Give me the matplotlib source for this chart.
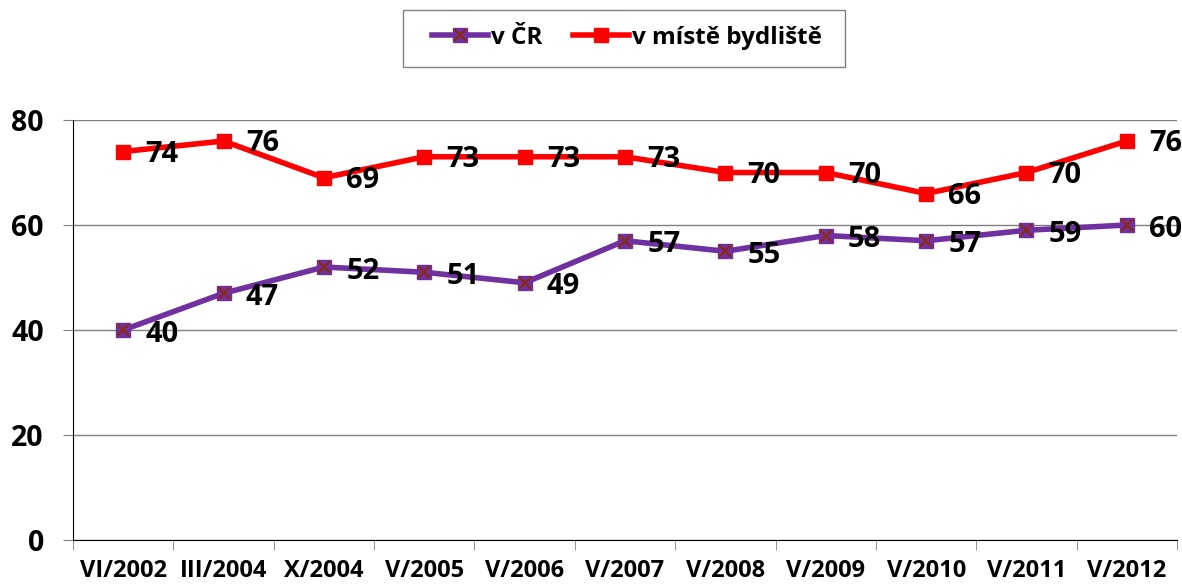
import numpy as np
import matplotlib.pyplot as plt
from matplotlib.lines import Line2D
from matplotlib.patches import Rectangle

plt.rcParams['font.family'] = ['Open Sans', 'DejaVu Sans']
plt.rcParams['font.weight'] = 'bold'

# data
categories = ["VI/2002", "III/2004", "X/2004", "V/2005", "V/2006", "V/2007",
              "V/2008", "V/2009", "V/2010", "V/2011", "V/2012"]
v_cr = [40, 47, 52, 51, 49, 57, 55, 58, 57, 59, 60]
v_bydliste = [74, 76, 69, 73, 73, 73, 70, 70, 66, 70, 76]

purple = '#7030A0'
red = '#FF0000'
xbrown = '#8B2A10'

W, H = 1182, 586
fig = plt.figure(figsize=(W / 100, H / 100), dpi=100)
ax = fig.add_axes([0.0618, 0.0785, 0.934, 0.7167])

x = np.arange(len(categories))

ax.plot(x, v_cr, color=purple, linewidth=4, marker='s', markersize=10,
        markerfacecolor=purple, markeredgecolor=purple, zorder=3)
ax.plot(x, v_cr, linestyle='none', marker='x', markersize=9,
        markeredgecolor=xbrown, markeredgewidth=1.6, zorder=4)
ax.plot(x, v_bydliste, color=red, linewidth=4, marker='s', markersize=10,
        markerfacecolor=red, markeredgecolor=red, zorder=3)

for xi, v in zip(x, v_cr):
    ax.annotate(str(v), (xi, v), xytext=(16, -3), textcoords='offset points',
                ha='left', va='center', fontsize=21, fontweight='bold', zorder=5)
for xi, v in zip(x, v_bydliste):
    ax.annotate(str(v), (xi, v), xytext=(16, -2), textcoords='offset points',
                ha='left', va='center', fontsize=21, fontweight='bold', zorder=5)

ax.set_xlim(-0.5, len(categories) - 0.5)
ax.set_ylim(0, 80)
ax.set_yticks([0, 20, 40, 60, 80])
ax.yaxis.grid(True, color='#808080', linewidth=1)
ax.set_axisbelow(True)

ax.set_xticks(x)
ax.set_xticklabels(categories, fontsize=17, fontweight='bold')
ax.set_xticks(np.arange(len(categories) + 1) - 0.5, minor=True)
ax.tick_params(axis='x', which='major', length=0, pad=14)
ax.tick_params(axis='x', which='minor', length=7, color='#808080', direction='out')
ax.tick_params(axis='y', labelsize=20.5, length=7, color='#808080', pad=14)
for lab in ax.get_yticklabels():
    lab.set_fontweight('bold')

for s in ['top', 'right']:
    ax.spines[s].set_visible(False)
ax.spines['left'].set_color('black')
ax.spines['bottom'].set_color('black')

# legend box drawn separately so the padding can be wider than tall
fig.patches.append(Rectangle((403 / W, 1 - 67 / H), 442 / W, 57 / H,
                             transform=fig.transFigure, facecolor='white',
                             edgecolor='#808080', linewidth=1))

h_cr = (Line2D([], [], color=purple, linewidth=4, marker='s', markersize=10,
               markerfacecolor=purple, markeredgecolor=purple),
        Line2D([], [], linestyle='none', marker='x', markersize=9,
               markeredgecolor=xbrown, markeredgewidth=1.6))
h_by = Line2D([], [], color=red, linewidth=4, marker='s', markersize=10,
              markerfacecolor=red, markeredgecolor=red)
leg = fig.legend([h_cr, h_by], ['v ČR', 'v místě bydliště'],
                 loc='center', bbox_to_anchor=(627 / W, 1 - 38 / H), ncol=2,
                 fontsize=17.5, frameon=False,
                 handlelength=2.3, handletextpad=0.15, columnspacing=1.25,
                 borderpad=0, borderaxespad=0)
for t in leg.get_texts():
    t.set_fontweight('bold')

fig.savefig('out.png', dpi=100)
